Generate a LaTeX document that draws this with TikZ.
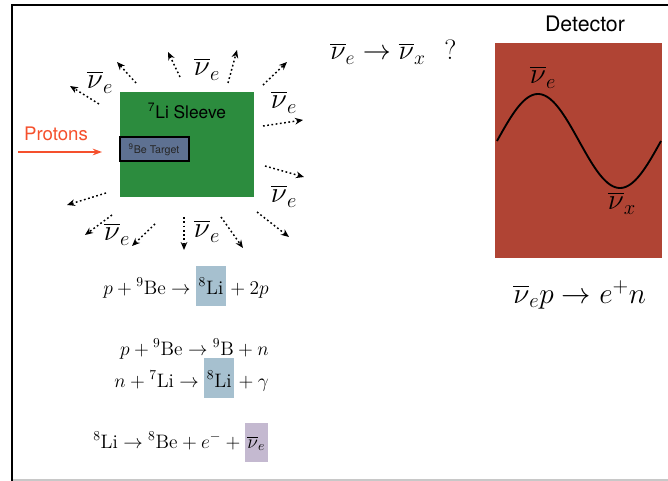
\RequirePackage{fix-cm}
\documentclass[tikz,border=0pt]{standalone}
\usepackage{amsmath}
\usepackage{fontspec}
\setsansfont{TeX Gyre Heros}
\usetikzlibrary{arrows.meta}
\definecolor{sleevegreen}{RGB}{44,140,62}
\definecolor{begray}{RGB}{94,113,146}
\definecolor{detred}{RGB}{176,68,52}
\definecolor{hlblue}{RGB}{166,192,207}
\definecolor{hllav}{RGB}{196,185,208}
\definecolor{protonred}{RGB}{245,80,45}
\definecolor{framegray}{RGB}{200,200,200}
\newcommand{\hlbox}[4]{{\setlength{\fboxsep}{2pt}\colorbox{#1}{$\rule[-#2]{0pt}{#3}#4$}}}
\newcommand{\nubar}{\overline{\nu}}
\begin{document}
\begin{tikzpicture}[x=0.75pt,y=-0.75pt,
  nuarrow/.style={line width=1.1pt, dash pattern=on 1.3pt off 1.9pt, -{Stealth[length=6pt,width=5pt]}},
  nulabel/.style={inner sep=0pt, font=\fontsize{22}{26}\selectfont},
  eqn/.style={inner sep=0pt, font=\fontsize{14.6}{17}\selectfont},
  sanslabel/.style={inner sep=0pt, font=\sffamily}
]
\useasboundingbox (0,0) rectangle (668,481);
% frame
\draw[framegray, line width=0.8pt] (12,480) -- (668,480);
\draw[black, line width=1.6pt] (12,481) -- (12,5) -- (668,5);

% sleeve and target
\fill[sleevegreen] (120,92) rectangle (254,197);
\node[sanslabel, font=\sffamily\fontsize{13}{15}\selectfont] (sleeve) at (187,111) {\textsuperscript{7}Li Sleeve};
\draw[fill=begray, line width=1.1pt] (120,137) rectangle (189,161);
\node[sanslabel, font=\sffamily\fontsize{8}{9}\selectfont, text=black!85] (target) at (154,149.5) {\textsuperscript{9}Be Target};

% protons
\node[sanslabel, font=\sffamily\fontsize{14}{16}\selectfont, text=protonred] (protons) at (56,134) {Protons};
\coordinate (pstart) at (18,152);
\coordinate (pend) at (102,152);
\draw[protonred, line width=1.1pt, -{Stealth[length=7pt,width=5pt]}] (pstart) -- (pend);

% dotted neutrino arrows
\coordinate (a1s) at (99,104);  \coordinate (a1e) at (70,86);
\coordinate (a2s) at (136,83);  \coordinate (a2e) at (117,62);
\coordinate (a3s) at (180,77);  \coordinate (a3e) at (168,52);
\coordinate (a4s) at (228,83);  \coordinate (a4e) at (237,50);
\coordinate (a5s) at (263,85);  \coordinate (a5e) at (287,62);
\coordinate (a6s) at (263,126); \coordinate (a6e) at (303,120);
\coordinate (a7s) at (265,166); \coordinate (a7e) at (304,177);
\coordinate (a8s) at (257,212); \coordinate (a8e) at (289,237);
\coordinate (a9s) at (221,217); \coordinate (a9e) at (243,248);
\coordinate (a10s) at (184,217); \coordinate (a10e) at (184,250);
\coordinate (a11s) at (155,224); \coordinate (a11e) at (132,246);
\coordinate (a12s) at (112,215); \coordinate (a12e) at (85,235);
\coordinate (a13s) at (106,193); \coordinate (a13e) at (67,205);
\foreach \i in {1,...,13} {\draw[nuarrow] (a\i s) -- (a\i e);}

% neutrino labels
\node[nulabel] (nu1) at (100,82) {$\nubar_e$};
\node[nulabel] (nu2) at (207,69) {$\nubar_e$};
\node[nulabel] (nu3) at (284,102) {$\nubar_e$};
\node[nulabel] (nu4) at (284,196) {$\nubar_e$};
\node[nulabel] (nu5) at (117,234) {$\nubar_e$};
\node[nulabel] (nu6) at (207,231) {$\nubar_e$};

% oscillation question
\node[nulabel, anchor=base west, font=\fontsize{21}{25}\selectfont] (osc) at (330,60) {$\nubar_e \to \nubar_x \hspace{14pt} ?$};

% detector
\node[sanslabel, font=\sffamily\fontsize{16}{18}\selectfont] (dettext) at (585,24) {Detector};
\fill[detred] (495,43) rectangle (662,258);
\draw[line width=1.4pt] plot[domain=497:661, samples=90, smooth] (\x, {141 - 47*sin((\x-497)/164*360)});
\node[nulabel] (dnue) at (543,77) {$\nubar_e$};
\node[nulabel] (dnux) at (622,203) {$\nubar_x$};
\node[nulabel, anchor=base west] (ibd) at (513,303) {$\nubar_e p \to e^+ n$};

% equations
\node[eqn, anchor=base west] (eq1) at (103,294) {$p + {}^{9}\mathrm{Be} \to \hlbox{hlblue}{7pt}{26pt}{{}^{8}\mathrm{Li}} + 2p$};
\node[eqn, anchor=base east] (eq2) at (269,355) {$p + {}^{9}\mathrm{Be} \to {}^{9}\mathrm{B} + n$};
\node[eqn, anchor=base east] (eq3) at (269,387) {$n + {}^{7}\mathrm{Li} \to \hlbox{hlblue}{6.5pt}{26pt}{{}^{8}\mathrm{Li}} + \gamma$};
\node[eqn, anchor=base west] (eq4) at (93,448) {${}^{8}\mathrm{Li} \to {}^{8}\mathrm{Be} + e^{-} + \hlbox{hllav}{8.5pt}{25pt}{\nubar_e}$};
\end{tikzpicture}
\end{document}
